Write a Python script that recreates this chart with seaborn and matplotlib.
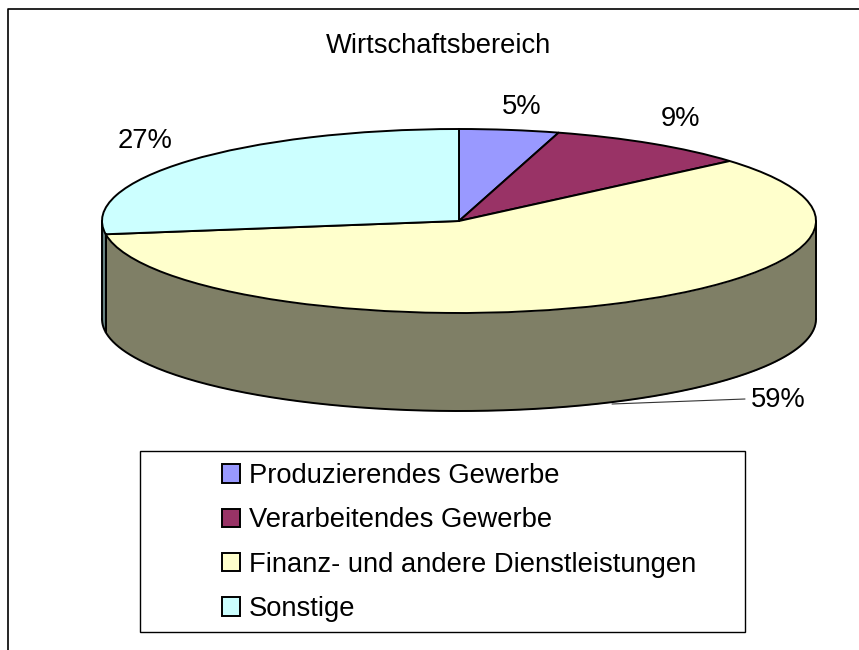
import numpy as np
import matplotlib
matplotlib.use('Agg')
import matplotlib.pyplot as plt
from matplotlib.patches import Rectangle
import seaborn as sns

title = 'Wirtschaftsbereich'
categories = ['Produzierendes Gewerbe', 'Verarbeitendes Gewerbe',
              'Finanz- und andere Dienstleistungen', 'Sonstige']
values = [4.5, 9.2, 59.0, 27.3]
pct_labels = ['5%', '9%', '59%', '27%']
top_colors = ['#9999FF', '#993366', '#FFFFCC', '#CCFFFF']
side_colors = ['#4D4D80', '#4D1A33', '#7F7F66', '#668080']

sns.set_style('white')
plt.rcParams['font.family'] = ['Liberation Sans', 'DejaVu Sans']
plt.rcParams['text.color'] = 'black'

W, H = 859, 650
fig = plt.figure(figsize=(W / 100, H / 100), dpi=100, facecolor='white')

# overlay in pixel coords for frame, texts, legend box
over = fig.add_axes([0, 0, 1, 1], zorder=3)
over.set_xlim(0, W)
over.set_ylim(H, 0)
over.axis('off')

# pie axes: one data unit = rx / ry pixels
cx, cy, rx, ry, depth = 459, 221, 357, 92, 98
x0, x1 = cx - rx - 5, cx + rx + 5
y0, y1 = cy - ry - 5, cy + ry + depth + 5
ax = fig.add_axes([x0 / W, 1 - y1 / H, (x1 - x0) / W, (y1 - y0) / H], zorder=2)
d = depth / ry
lw = 1.4
edge = dict(edgecolor='black', linewidth=lw)

# side wall, from the same shares as the pie
edges = np.cumsum([0] + values) / sum(values) * 2 * np.pi
for a, b, c in zip(edges[:-1], edges[1:], side_colors):
    lo, hi = max(a, np.pi / 2), min(b, 3 * np.pi / 2)
    if hi <= lo:
        continue
    t = np.linspace(lo, hi, 200)
    ax.fill_between(np.sin(t), np.cos(t), np.cos(t) - d, color=c, linewidth=0)
    ax.plot(np.sin(t), np.cos(t) - d, color='black', lw=lw)
    for tt in (lo, hi):
        ax.plot([np.sin(tt)] * 2, [np.cos(tt), np.cos(tt) - d], color='black', lw=lw)

wedges, _ = ax.pie(values, colors=top_colors, startangle=90, counterclock=False,
                   wedgeprops=edge)
ax.set_aspect('auto')
ax.set_xlim(-(rx + 5) / rx, (rx + 5) / rx)
ax.set_ylim(-(ry + depth + 5) / ry, (ry + 5) / ry)

# chart frame, only top and left show in the crop
over.plot([8, 8, W], [H, 9, 9], color='black', lw=1.2, clip_on=False)

fs = 19.7
over.text(439, 46, title, ha='center', va='center', fontsize=fs)
over.text(522, 107, pct_labels[0], ha='center', va='center', fontsize=fs)
over.text(681, 119, pct_labels[1], ha='center', va='center', fontsize=fs)
over.text(145, 141, pct_labels[3], ha='center', va='center', fontsize=fs)
over.text(778, 400, pct_labels[2], ha='center', va='center', fontsize=fs)
over.plot([612, 745], [404, 399], color='#333333', lw=0.8)

over.add_patch(Rectangle((140, 451), 605, 181, facecolor='white', edgecolor='black', lw=1.0))
leg = over.legend(wedges, categories, loc='upper left', bbox_to_anchor=(222 / W, 1 - 463 / H),
                  bbox_transform=fig.transFigure, frameon=False, fontsize=fs, borderpad=0,
                  borderaxespad=0, labelspacing=0.67, handlelength=0.66, handleheight=0.66,
                  handletextpad=0.31)

fig.savefig('out.png', dpi=100)
